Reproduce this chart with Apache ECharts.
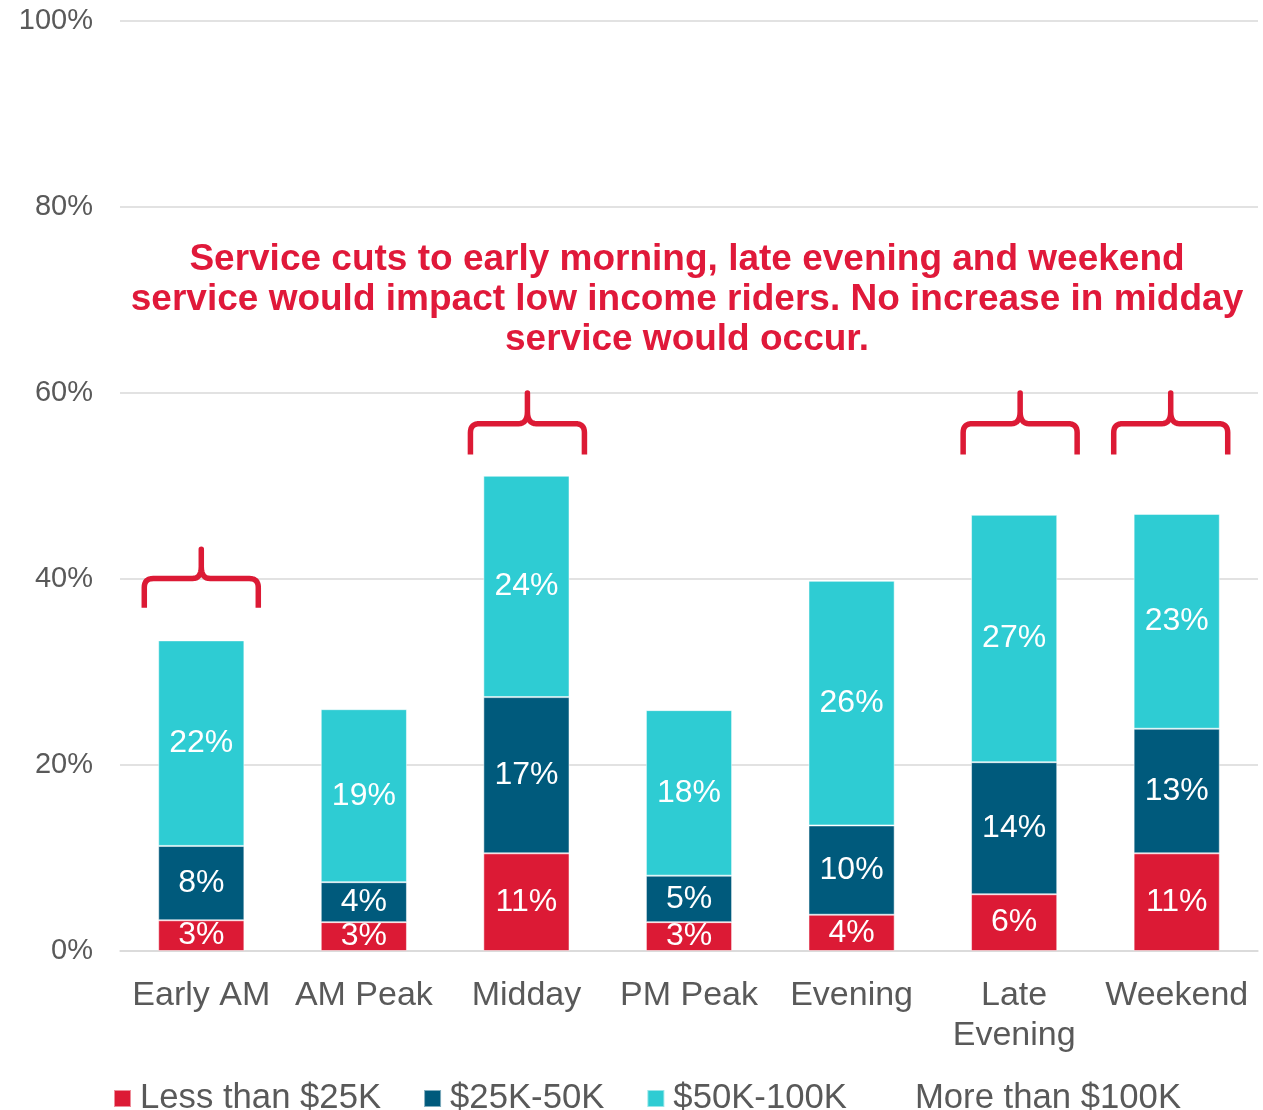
<!DOCTYPE html>
<html>
<head>
<meta charset="utf-8">
<script src="https://cdn.jsdelivr.net/npm/echarts@6/dist/echarts.min.js"></script>
<style>
  html, body { margin: 0; padding: 0; background: #fff; }
  #main { width: 1263px; height: 1110px; }
</style>
</head>
<body>
<div id="main"></div>
<script>
var categories = ['Early AM', 'AM Peak', 'Midday', 'PM Peak', 'Evening', 'Late\nEvening', 'Weekend'];
var under25 = [3.3, 3.1, 10.5, 3.1, 3.9, 6.1, 10.5];
var from25to50 = [8.0, 4.3, 16.8, 5.0, 9.6, 14.2, 13.4];
var from50to100 = [22.1, 18.6, 23.8, 17.8, 26.3, 26.6, 23.1];
var over100 = [66.6, 74.0, 48.9, 74.1, 60.2, 53.1, 53.0];
var yTicks = [0, 20, 40, 60, 80, 100];

// braces over the categories that are affected: [category, bottom %, top %, x shift px]
var braces = [
    ['Early AM', 36.9, 43.2, 0],
    ['Midday', 53.4, 60, 1],
    ['Late\nEvening', 53.4, 60, 6],
    ['Weekend', 53.4, 60, -6]
];

var red = '#DC1A35';
var gray = '#595959';

var myChart = echarts.init(document.getElementById('main'));

var labelStyle = {
    show: true,
    position: 'inside',
    color: '#fff',
    fontSize: 32,
    fontFamily: 'Liberation Sans, Arial, sans-serif',
    formatter: function (p) { return Math.round(p.value) + '%'; }
};

function barSeries(name, data, color, withLabel) {
    return {
        name: name,
        type: 'bar',
        stack: 'income',
        barWidth: '53%',
        data: data,
        itemStyle: {
            color: color,
            borderColor: withLabel ? 'rgba(255,255,255,0.5)' : 'rgba(0,0,0,0)',
            borderWidth: withLabel ? 1 : 0
        },
        label: withLabel ? labelStyle : { show: false },
        emphasis: { disabled: true }
    };
}

var option = {
    animation: false,
    textStyle: { fontFamily: 'Liberation Sans, Arial, sans-serif' },
    title: {
        text: 'Service cuts to early morning, late evening and weekend\nservice would impact low income riders. No increase in midday\nservice would occur.',
        left: 682,
        top: 235,
        textAlign: 'center',
        textStyle: {
            color: '#E0193A',
            fontSize: 37,
            fontWeight: 'bold',
            lineHeight: 40,
            fontFamily: 'Liberation Sans, Arial, sans-serif'
        }
    },
    grid: {
        left: 120,
        right: 5,
        top: 21,
        bottom: 159
    },
    legend: {
        left: 108,
        top: 1076,
        itemWidth: 17,
        itemHeight: 17,
        itemGap: 42,
        icon: 'rect',
        textStyle: {
            color: gray,
            fontSize: 34.7,
            padding: [0, 0, 0, 4]
        },
        data: ['Less than $25K', '$25K-50K', '$50K-100K', 'More than $100K']
    },
    xAxis: {
        type: 'category',
        data: categories,
        axisTick: { show: false },
        axisLine: { lineStyle: { color: '#D9D9D9', width: 1.5 } },
        axisLabel: {
            interval: 0,
            color: gray,
            fontSize: 34,
            lineHeight: 40,
            margin: 25
        }
    },
    yAxis: {
        type: 'value',
        min: yTicks[0],
        max: yTicks[yTicks.length - 1],
        interval: 20,
        axisLine: { show: false },
        axisTick: { show: false },
        splitLine: { lineStyle: { color: '#D9D9D9', width: 1.5 } },
        axisLabel: {
            color: gray,
            fontSize: 29,
            margin: 27,
            formatter: '{value}%'
        }
    },
    series: [
        barSeries('Less than $25K', under25, red, true),
        barSeries('$25K-50K', from25to50, '#005A7C', true),
        barSeries('$50K-100K', from50to100, '#2ECCD3', true),
        barSeries('More than $100K', over100, 'rgba(0,0,0,0)', false)
    ]
};

myChart.setOption(option);

// points along a quadratic curve
function quad(p0, c, p1, pts) {
    for (var i = 1; i <= 8; i++) {
        var t = i / 8, u = 1 - t;
        pts.push([u * u * p0[0] + 2 * u * t * c[0] + t * t * p1[0],
                  u * u * p0[1] + 2 * u * t * c[1] + t * t * p1[1]]);
    }
}

// curly braces drawn from axis positions
var bracePaths = braces.map(function (b) {
    var cx = myChart.convertToPixel({ xAxisIndex: 0 }, b[0]) + b[3];
    var yb = myChart.convertToPixel({ yAxisIndex: 0 }, b[1]);
    var yt = myChart.convertToPixel({ yAxisIndex: 0 }, b[2]);
    var hw = 57;
    var yf = (yb + yt) / 2;
    var r = 9;
    var pts = [[cx - hw, yb], [cx - hw, yf + r]];
    quad([cx - hw, yf + r], [cx - hw, yf], [cx - hw + r, yf], pts);
    pts.push([cx - 9, yf]);
    quad([cx - 9, yf], [cx, yf], [cx, yf - 12], pts);
    pts.push([cx, yt]);
    pts.push([cx, yf - 12]);
    quad([cx, yf - 12], [cx, yf], [cx + 9, yf], pts);
    pts.push([cx + hw - r, yf]);
    quad([cx + hw - r, yf], [cx + hw, yf], [cx + hw, yf + r], pts);
    pts.push([cx + hw, yb]);
    return {
        type: 'polyline',
        shape: { points: pts },
        style: { fill: null, stroke: red, lineWidth: 5.5, lineJoin: 'round' },
        z: 100
    };
});

myChart.setOption({ graphic: bracePaths });
</script>
</body>
</html>
